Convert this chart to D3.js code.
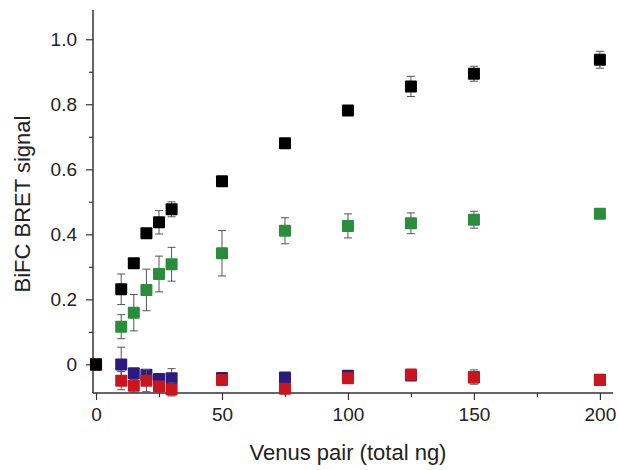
<!DOCTYPE html>
<html>
<head>
<meta charset="utf-8">
<script src="https://cdn.jsdelivr.net/npm/d3@7"></script>
<style>
  html, body { margin: 0; padding: 0; background: #fff; }
  svg { display: block; font-family: "Liberation Sans", Arial, Helvetica, sans-serif; }
</style>
</head>
<body>
<svg id="chart" width="619" height="470"></svg>
<script>
// ---- Data ----
const xValues = [0, 10, 15, 20, 25, 30, 50, 75, 100, 125, 150, 200];

const blackValues = [0, 0.231, 0.311, 0.403, 0.437, 0.477, 0.563, 0.680, 0.781, 0.855, 0.894, 0.937];
const blackErrors = [0, 0.047, 0.006, 0.006, 0.036, 0.023, 0.006, 0.006, 0.015, 0.031, 0.023, 0.026];

const greenValues = [0, 0.116, 0.159, 0.229, 0.278, 0.308, 0.342, 0.411, 0.426, 0.434, 0.445, 0.463];
const greenErrors = [0, 0.037, 0.056, 0.064, 0.055, 0.052, 0.070, 0.040, 0.037, 0.032, 0.026, 0.008];

const blueValues = [0, 0.000, -0.027, -0.032, -0.045, -0.043, -0.042, -0.040, -0.035, -0.034, -0.040, -0.047];
const blueErrors = [0, 0.053, 0.012, 0.012, 0.010, 0.030, 0.008, 0.010, 0.012, 0.012, 0.015, 0.015];

const redValues = [0, -0.050, -0.066, -0.050, -0.068, -0.077, -0.048, -0.075, -0.043, -0.031, -0.039, -0.048];
const redErrors = [0, 0.028, 0.020, 0.034, 0.010, 0.020, 0.010, 0.010, 0.012, 0.008, 0.022, 0.017];

const xMajorTicks = [0, 50, 100, 150, 200];
const xMinorTicks = [25, 75, 125, 175];
const yMajorTicks = [0, 0.2, 0.4, 0.6, 0.8, 1.0];
const yMinorTicks = [0.1, 0.3, 0.5, 0.7, 0.9];

const seriesList = [
  { name: "green", values: greenValues, errors: greenErrors, color: "#2b8c3b" },
  { name: "blue",  values: blueValues,  errors: blueErrors,  color: "#2c1a80" },
  { name: "red",   values: redValues,   errors: redErrors,   color: "#c8161f" },
  { name: "black", values: blackValues, errors: blackErrors, color: "#000000" }
];

// ---- Layout ----
const svg = d3.select("#chart");
const plotLeft = 93, plotRight = 613, plotTop = 10, plotBottom = 393;

const x = d3.scaleLinear().domain([-1.2, 205.2]).range([plotLeft, plotRight]);
const y = d3.scaleLinear().domain([-0.088, 1.09]).range([plotBottom, plotTop]);

const axisColor = "#333";

// Minor ticks (no labels)
svg.append("g")
  .attr("transform", `translate(0,${plotBottom})`)
  .call(d3.axisBottom(x).tickValues(xMinorTicks).tickSize(4).tickFormat(""))
  .call(g => g.select(".domain").remove())
  .call(g => g.selectAll("line").attr("stroke", axisColor).attr("stroke-width", 1.2));

svg.append("g")
  .attr("transform", `translate(${plotLeft},0)`)
  .call(d3.axisLeft(y).tickValues(yMinorTicks).tickSize(4).tickFormat(""))
  .call(g => g.select(".domain").remove())
  .call(g => g.selectAll("line").attr("stroke", axisColor).attr("stroke-width", 1.2));

// Major x axis
svg.append("g")
  .attr("transform", `translate(0,${plotBottom})`)
  .call(d3.axisBottom(x).tickValues(xMajorTicks).tickSize(7).tickPadding(8).tickFormat(d3.format("d")))
  .call(g => g.select(".domain").remove())
  .call(g => g.selectAll("line").attr("stroke", axisColor).attr("stroke-width", 1.2))
  .call(g => g.selectAll("text").attr("fill", "#222").style("font-size", "19px"));

// Major y axis
svg.append("g")
  .attr("transform", `translate(${plotLeft},0)`)
  .call(d3.axisLeft(y).tickValues(yMajorTicks).tickSize(7).tickPadding(9)
        .tickFormat(d => d === 0 ? "0" : d3.format(".1f")(d)))
  .call(g => g.select(".domain").remove())
  .call(g => g.selectAll("line").attr("stroke", axisColor).attr("stroke-width", 1.2))
  .call(g => g.selectAll("text").attr("fill", "#222").style("font-size", "19px"));

// Axis lines
svg.append("line")
  .attr("x1", plotLeft).attr("x2", plotRight).attr("y1", plotBottom).attr("y2", plotBottom)
  .attr("stroke", axisColor).attr("stroke-width", 1.5);
svg.append("line")
  .attr("x1", plotLeft).attr("x2", plotLeft).attr("y1", plotTop).attr("y2", plotBottom)
  .attr("stroke", axisColor).attr("stroke-width", 1.5);

// Axis titles
svg.append("text")
  .attr("x", (plotLeft + plotRight) / 2 - 5)
  .attr("y", 460)
  .attr("text-anchor", "middle")
  .attr("fill", "#222")
  .style("font-size", "22px")
  .text("Venus pair (total ng)");

svg.append("text")
  .attr("transform", "translate(30,204) rotate(-90)")
  .attr("text-anchor", "middle")
  .attr("fill", "#222")
  .style("font-size", "22px")
  .text("BiFC BRET signal");

// ---- Marks ----
const size = 12, cap = 4;
seriesList.forEach(s => {
  const pts = xValues.map((xv, i) => ({ x: xv, v: s.values[i], e: s.errors[i] }));
  const g = svg.append("g");
  const eb = g.selectAll("g.eb").data(pts.filter(p => p.e > 0)).join("g")
    .attr("stroke", "#555").attr("stroke-width", 1);
  eb.append("line")
    .attr("x1", d => x(d.x)).attr("x2", d => x(d.x))
    .attr("y1", d => y(d.v + d.e)).attr("y2", d => y(d.v - d.e));
  eb.append("line")
    .attr("x1", d => x(d.x) - cap).attr("x2", d => x(d.x) + cap)
    .attr("y1", d => y(d.v + d.e)).attr("y2", d => y(d.v + d.e));
  eb.append("line")
    .attr("x1", d => x(d.x) - cap).attr("x2", d => x(d.x) + cap)
    .attr("y1", d => y(d.v - d.e)).attr("y2", d => y(d.v - d.e));
  g.selectAll("rect").data(pts).join("rect")
    .attr("x", d => x(d.x) - size / 2)
    .attr("y", d => y(d.v) - size / 2)
    .attr("width", size).attr("height", size)
    .attr("rx", 1)
    .attr("fill", s.color);
});
</script>
</body>
</html>
